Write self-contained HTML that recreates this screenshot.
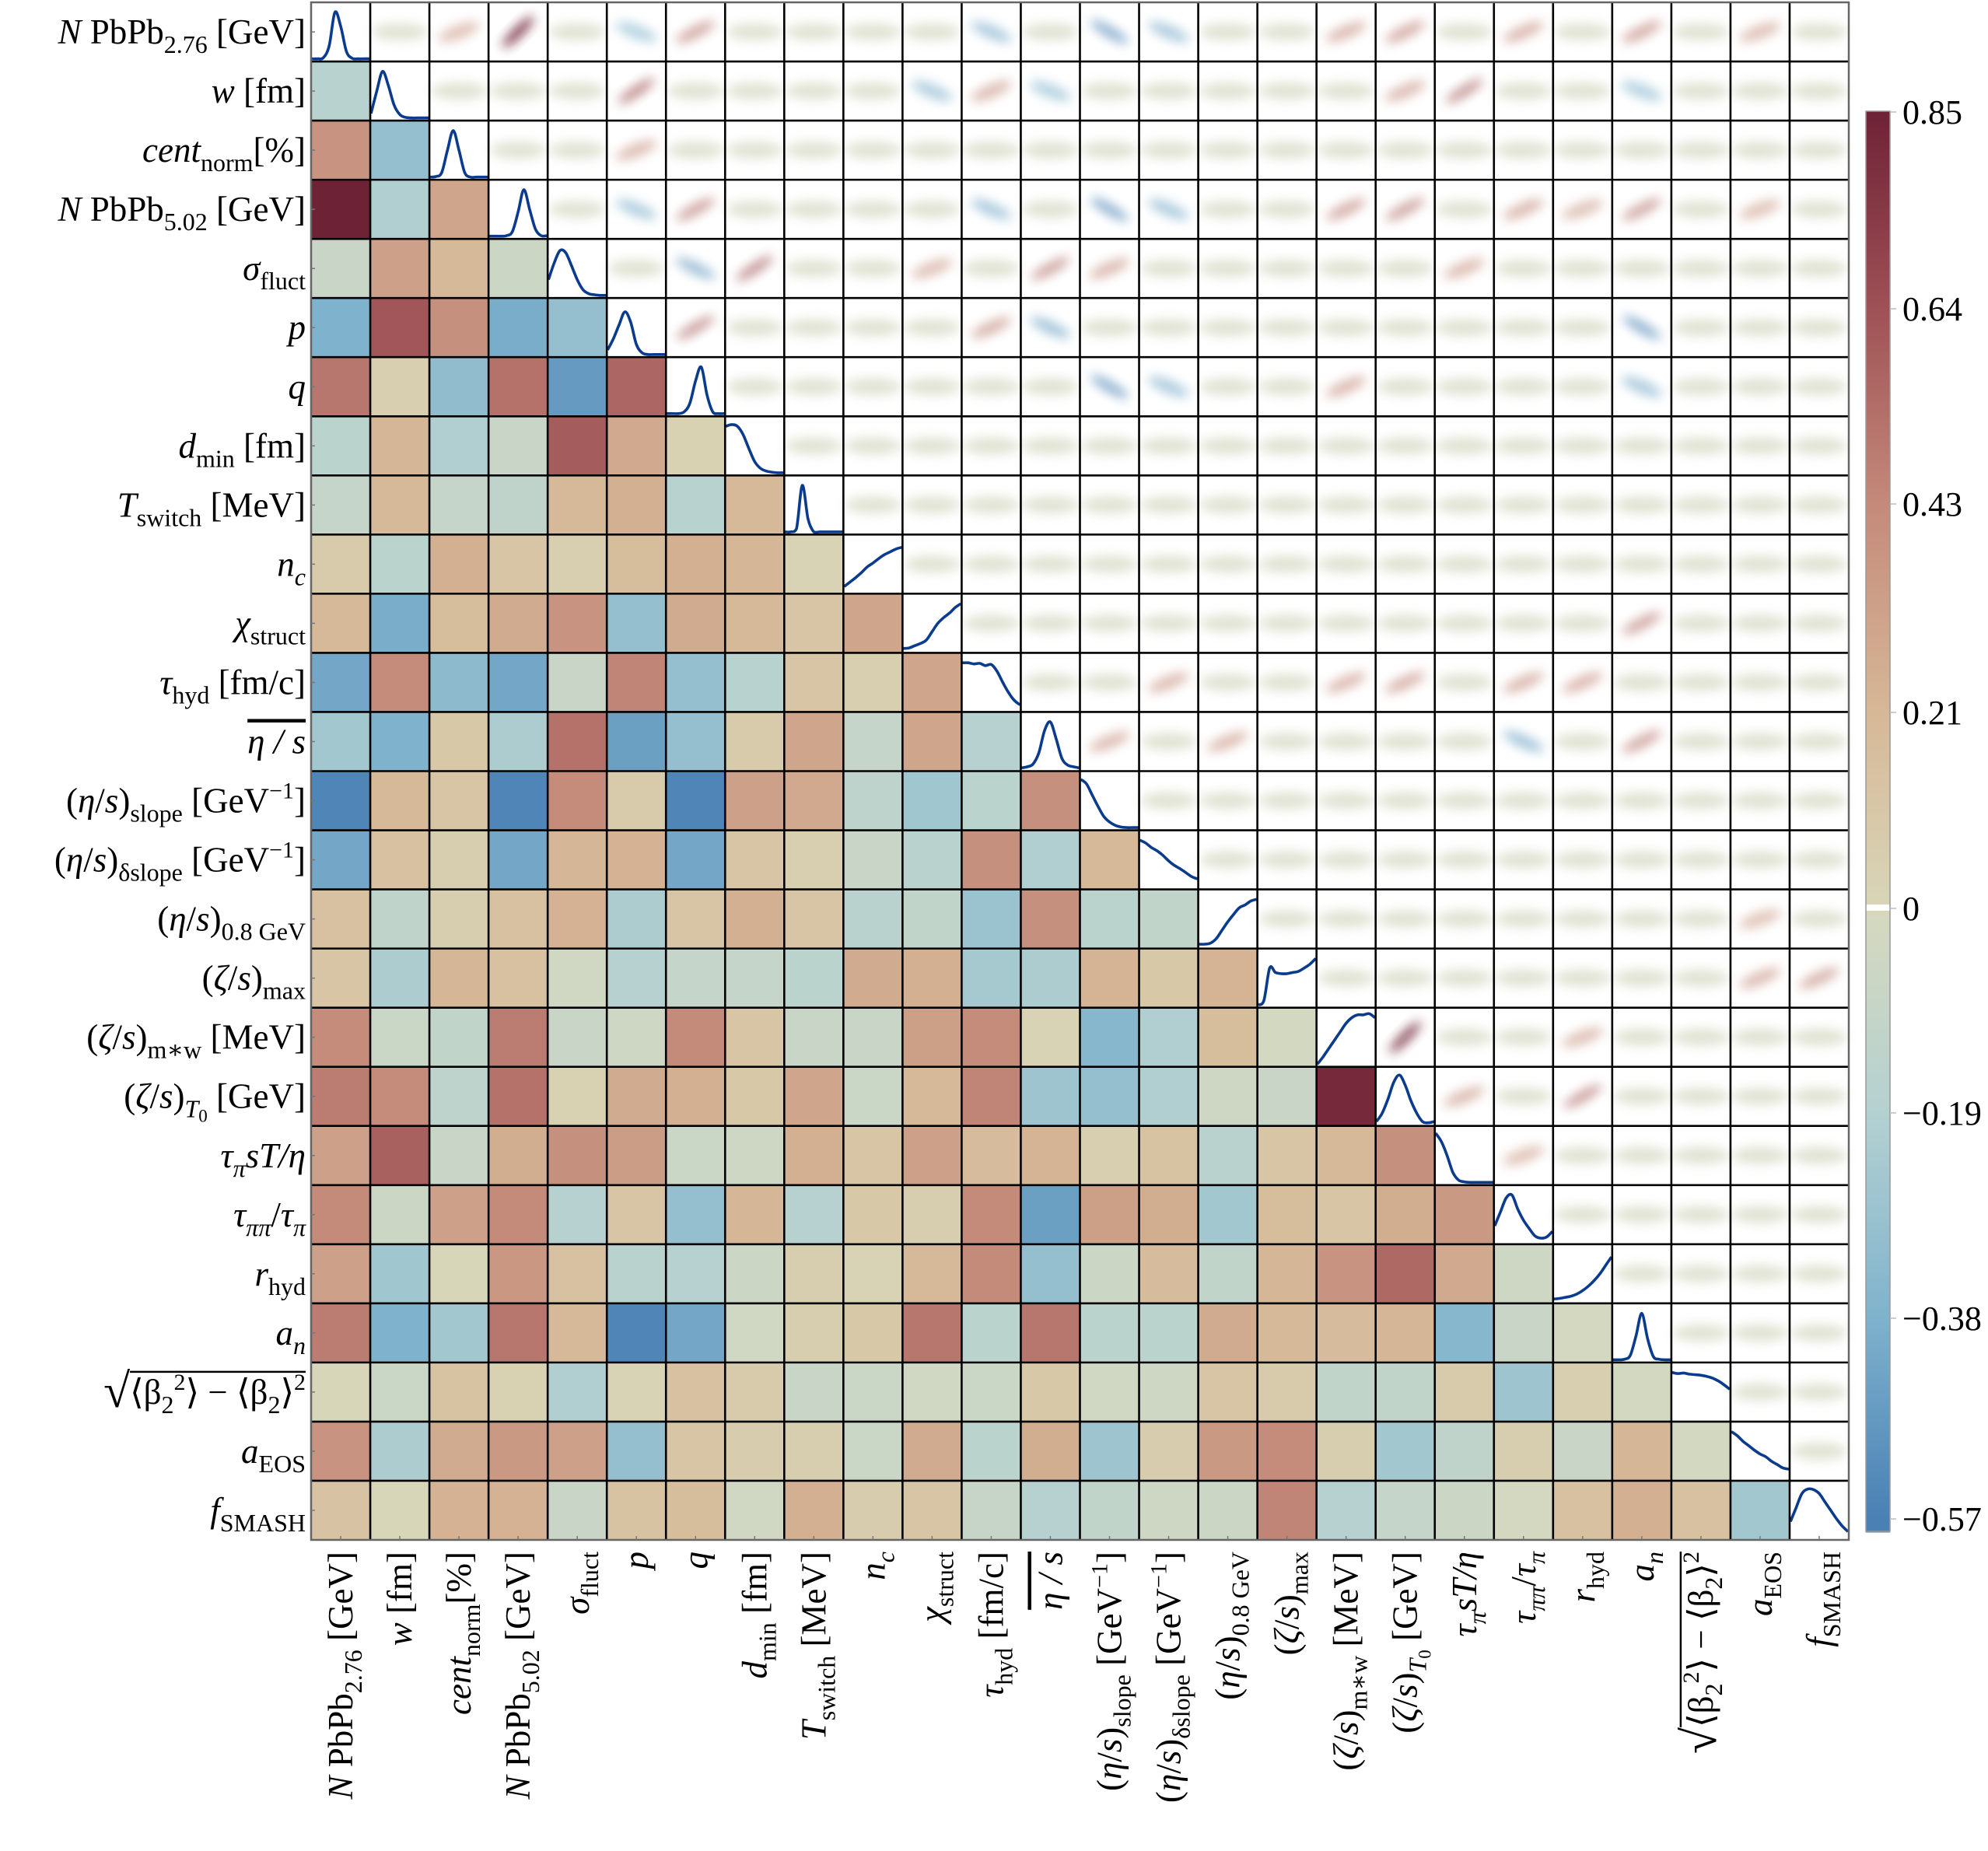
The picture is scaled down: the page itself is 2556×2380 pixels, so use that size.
<!DOCTYPE html>
<html>
<head>
<meta charset="utf-8">
<style>
html,body{margin:0;padding:0;background:#fff;}
svg{display:block;}
text{font-family:"Liberation Serif","DejaVu Serif",serif;fill:#000;}
</style>
</head>
<body>
<svg id="chart" width="2556" height="2380" viewBox="0 0 2556 2380" xmlns="http://www.w3.org/2000/svg">
<defs>
<filter id="blur" x="-50%" y="-100%" width="200%" height="300%"><feGaussianBlur stdDeviation="7"/></filter>
</defs>
<g id="blobs"></g>
<g id="cells"></g>
<g id="diag"></g>
<g id="gridlines"></g>
<g id="rowlabels"></g>
<g id="collabels"></g>
<g id="colorbar"></g>
</svg>
<script>
// ---- data ----
const paramNames = ["N PbPb2.76","w","cent_norm","N PbPb5.02","sigma_fluct","p","q","d_min","T_switch","n_c","chi_struct","tau_hyd","eta/s","(eta/s)slope","(eta/s)dslope","(eta/s)0.8GeV","(zeta/s)max","(zeta/s)m*w","(zeta/s)T0","tau_pi sT/eta","tau_pipi/tau_pi","r_hyd","a_n","sqrt_beta2","a_EOS","f_SMASH"];
const corrRows = [
 [],
 [-0.17],
 [0.38,-0.3],
 [0.85,-0.2,0.3],
 [-0.08,0.32,0.2,-0.06],
 [-0.38,0.62,0.4,-0.4,-0.3],
 [0.5,0.05,-0.32,0.52,-0.47,0.56],
 [-0.15,0.22,-0.2,-0.08,0.6,0.28,0.03],
 [-0.1,0.2,-0.1,-0.13,0.2,0.25,-0.17,0.2],
 [0.08,-0.15,0.25,0.12,0.05,0.17,0.25,0.22,0.02],
 [0.2,-0.4,0.17,0.27,0.38,-0.3,0.27,0.2,0.12,0.3],
 [-0.42,0.42,-0.33,-0.42,-0.08,0.45,-0.3,-0.17,0.12,0.05,0.3],
 [-0.25,-0.38,0.1,-0.22,0.52,-0.45,-0.3,0.08,0.3,-0.1,0.3,-0.18],
 [-0.55,0.2,0.12,-0.55,0.42,0.08,-0.55,0.32,0.28,-0.14,-0.26,-0.15,0.4],
 [-0.42,0.15,0.06,-0.42,0.22,0.24,-0.42,0.12,0.05,-0.08,-0.16,0.4,-0.2,0.2],
 [0.15,-0.13,0.06,0.15,0.24,-0.22,0.12,0.25,0.12,-0.16,-0.12,-0.28,0.4,-0.15,-0.12],
 [0.12,-0.22,0.22,0.15,-0.04,-0.18,-0.1,-0.1,-0.15,0.27,0.25,-0.24,-0.22,0.23,0.1,0.23],
 [0.42,-0.07,-0.12,0.48,-0.08,-0.05,0.43,0.12,-0.08,-0.08,0.33,0.42,0.02,-0.35,-0.2,0.17,-0.02],
 [0.48,0.42,-0.14,0.52,0.03,0.27,0.25,0.1,0.3,-0.07,0.2,0.45,-0.27,-0.3,-0.2,-0.05,-0.08,0.82],
 [0.32,0.58,-0.08,0.26,0.4,0.34,-0.07,-0.05,0.25,0.12,0.32,0.18,0.23,0.05,0.14,-0.16,0.12,0.2,0.4],
 [0.43,-0.06,0.32,0.43,-0.18,0.12,-0.3,0.22,-0.18,0.1,0.06,0.43,-0.45,0.33,0.26,-0.25,0.17,0.12,0.26,0.36],
 [0.32,-0.26,0.0,0.37,0.15,-0.16,-0.18,-0.06,0.06,0.02,0.2,0.43,-0.3,-0.06,0.18,-0.12,0.22,0.38,0.55,0.28,-0.05],
 [0.48,-0.38,-0.25,0.5,0.2,-0.55,-0.42,-0.04,0.06,0.1,0.5,-0.15,0.5,-0.15,-0.15,0.27,0.2,0.18,0.22,-0.35,-0.08,-0.01],
 [0.0,-0.07,0.14,0.03,-0.2,0.02,0.15,0.08,-0.08,-0.07,-0.04,-0.07,0.1,-0.04,-0.05,0.12,0.08,-0.12,-0.12,0.08,-0.27,0.05,-0.02],
 [0.38,-0.22,0.27,0.36,0.32,-0.3,0.12,0.07,0.06,-0.07,0.27,-0.15,0.26,-0.27,0.07,0.36,0.42,0.06,-0.25,-0.13,0.06,-0.08,0.22,-0.02],
 [0.13,0.0,0.24,0.24,-0.08,0.14,0.17,-0.04,0.25,0.07,0.12,-0.09,-0.18,-0.12,-0.05,-0.06,0.45,-0.18,-0.1,-0.06,-0.01,0.15,0.25,0.15,-0.25]
];
// marginal densities, sampled at 11 equally spaced points, normalised 0..1
const marginals = [
 [0.02,0.02,0.04,0.25,0.85,0.6,0.15,0.03,0.02,0.02,0.02],
 [0.1,0.5,0.85,0.6,0.25,0.08,0.03,0.02,0.02,0.02,0.02],
 [0.02,0.03,0.1,0.5,0.85,0.5,0.1,0.02,0.02,0.02,0.02],
 [0.02,0.02,0.02,0.03,0.1,0.45,0.85,0.5,0.15,0.03,0.03],
 [0.3,0.6,0.82,0.78,0.55,0.3,0.12,0.05,0.03,0.02,0.02],
 [0.1,0.3,0.55,0.78,0.6,0.2,0.05,0.02,0.02,0.02,0.02],
 [0.02,0.02,0.02,0.05,0.2,0.6,0.85,0.35,0.05,0.02,0.02],
 [0.85,0.88,0.85,0.7,0.45,0.22,0.1,0.05,0.03,0.02,0.02],
 [0.02,0.02,0.08,0.85,0.25,0.02,0.02,0.02,0.02,0.02,0.02],
 [0.1,0.18,0.26,0.35,0.45,0.52,0.6,0.67,0.72,0.77,0.8],
 [0.05,0.06,0.1,0.14,0.2,0.35,0.5,0.6,0.68,0.78,0.85],
 [0.85,0.85,0.83,0.84,0.8,0.82,0.7,0.5,0.32,0.18,0.1],
 [0.03,0.05,0.1,0.3,0.7,0.85,0.55,0.2,0.08,0.05,0.03],
 [0.88,0.8,0.6,0.4,0.22,0.12,0.06,0.03,0.02,0.02,0.02],
 [0.85,0.8,0.72,0.66,0.58,0.48,0.4,0.34,0.27,0.2,0.16],
 [0.05,0.05,0.07,0.15,0.3,0.45,0.58,0.7,0.75,0.82,0.85],
 [0.02,0.1,0.68,0.6,0.58,0.58,0.6,0.62,0.68,0.75,0.85],
 [0.02,0.15,0.3,0.45,0.6,0.75,0.85,0.9,0.9,0.92,0.85],
 [0.05,0.2,0.45,0.75,0.88,0.7,0.42,0.2,0.05,0.03,0.05],
 [0.9,0.75,0.5,0.2,0.06,0.03,0.02,0.02,0.02,0.02,0.02],
 [0.3,0.55,0.8,0.85,0.6,0.4,0.25,0.12,0.08,0.1,0.2],
 [0.05,0.06,0.08,0.1,0.14,0.2,0.28,0.38,0.5,0.65,0.8],
 [0.02,0.02,0.03,0.1,0.45,0.85,0.4,0.08,0.03,0.02,0.02],
 [0.85,0.83,0.84,0.82,0.81,0.8,0.78,0.75,0.7,0.63,0.55],
 [0.85,0.78,0.68,0.6,0.52,0.45,0.4,0.32,0.26,0.2,0.18],
 [0.3,0.55,0.8,0.88,0.87,0.8,0.65,0.5,0.35,0.22,0.12]
];
const cbTickValues = [0.85,0.64,0.43,0.21,0,-0.19,-0.38,-0.57];
const cbTickLabels = ["0.85","0.64","0.43","0.21","0","\u22120.19","\u22120.38","\u22120.57"];

// ---- layout ----
const NS = "http://www.w3.org/2000/svg";
const N = 26, X0 = 400, Y0 = 3, X1 = 2377;
const C = (X1 - X0) / N;
const cbTickY = [144,397,648,916,1168,1431,1695,1953];
const cbX = 2399, cbW = 31, cbTop = 143, cbBot = 1969;
function colX(j){ return X0 + j*C; }
function rowY(i){ return Y0 + i*C; }
function el(tag, attrs, parent){
  const e = document.createElementNS(NS, tag);
  for (const k in attrs) e.setAttribute(k, attrs[k]);
  parent.appendChild(e); return e;
}
const stops = [[-0.57,[74,128,180]],[-0.38,[127,178,204]],[-0.19,[180,209,209]],[-0.01,[213,216,192]],[0,[216,214,184]],[0.21,[214,184,151]],[0.43,[196,138,122]],[0.64,[158,81,86]],[0.85,[110,34,54]]];
function cmap(v){
  if (v <= stops[0][0]) return "rgb("+stops[0][1].join(",")+")";
  for (let k=1;k<stops.length;k++){
    if (v <= stops[k][0]){
      const a=stops[k-1], b=stops[k], t=(v-a[0])/(b[0]-a[0]);
      const c=a[1].map((x,ii)=>Math.round(x+(b[1][ii]-x)*t));
      return "rgb("+c.join(",")+")";
    }
  }
  return "rgb("+stops[stops.length-1][1].join(",")+")";
}
function corr(i,j){ return i>j ? corrRows[i][j] : corrRows[j][i]; }

// ---- lower triangle cells ----
const gCells = document.getElementById("cells");
for (let i=1;i<N;i++){
  for (let j=0;j<i;j++){
    const r = el("rect",{x:colX(j),y:rowY(i),width:C,height:C,fill:cmap(corrRows[i][j])},gCells);
    
    
  }
}
// ---- upper triangle blobs ----
const gBlobs = document.getElementById("blobs");
for (let i=0;i<N;i++){
  for (let j=i+1;j<N;j++){
    const v = corr(i,j);
    const a = Math.abs(v);
    const cx = colX(j)+C/2, cy = rowY(i)+C/2;
    const strong = a > 0.35;
    const ang = strong ? -Math.sign(v)*Math.min(45, a*55) : 0;
    const col = strong ? cmap(v) : "rgb(200,204,176)";
    const e = el("ellipse",{cx:cx,cy:cy,rx:strong?28:36,ry:strong?Math.max(6,14*(1-a)):11,fill:col,opacity:strong?Math.min(0.9,0.3+a*0.7):0.55,filter:"url(#blur)",transform:"rotate("+ang+" "+cx+" "+cy+")"},gBlobs);
    
    
  }
}
// ---- diagonal marginals ----
const gDiag = document.getElementById("diag");
for (let i=0;i<N;i++){
  const m = marginals[i];
  const x0 = colX(i)+1, y0 = rowY(i)+C-2, w = C-2, h = C-4;
  const pts = m.map((v,k)=>[x0 + w*k/(m.length-1), y0 - v*h]);
  let d = "M"+pts[0][0].toFixed(1)+","+pts[0][1].toFixed(1);
  for (let k=0;k<pts.length-1;k++){
    const p0=pts[Math.max(0,k-1)], p1=pts[k], p2=pts[k+1], p3=pts[Math.min(pts.length-1,k+2)];
    const c1=[p1[0]+(p2[0]-p0[0])/6, p1[1]+(p2[1]-p0[1])/6];
    const c2=[p2[0]-(p3[0]-p1[0])/6, p2[1]-(p3[1]-p1[1])/6];
    d += " C"+c1[0].toFixed(1)+","+Math.min(y0,c1[1]).toFixed(1)+" "+c2[0].toFixed(1)+","+Math.min(y0,c2[1]).toFixed(1)+" "+p2[0].toFixed(1)+","+p2[1].toFixed(1);
  }
  const p = el("path",{d:d,fill:"none",stroke:"#0b3b8c","stroke-width":3.6,"stroke-linejoin":"round"},gDiag);
  
  
}
// ---- grid lines ----
const gGrid = document.getElementById("gridlines");
for (let k=1;k<N;k++){
  el("line",{x1:colX(k),y1:Y0,x2:colX(k),y2:rowY(N),stroke:"#000","stroke-width":2.6},gGrid);
  el("line",{x1:X0,y1:rowY(k),x2:X1,y2:rowY(k),stroke:"#000","stroke-width":2.6},gGrid);
}
el("rect",{x:X0,y:Y0,width:X1-X0,height:rowY(N)-Y0,fill:"none",stroke:"#666","stroke-width":2.5},gGrid);
for (let k=0;k<N;k++){
  el("line",{x1:X0,y1:rowY(k)+C/2,x2:X0+5,y2:rowY(k)+C/2,stroke:"#777","stroke-width":1.5},gGrid);
  el("line",{x1:colX(k)+C/2,y1:rowY(N),x2:colX(k)+C/2,y2:rowY(N)-5,stroke:"#777","stroke-width":1.5},gGrid);
}

// ---- labels ----
const labelSegs = [
 [["N","i"],[" PbPb",""],["2.76","s"],[" [GeV]",""]],
 [["w","i"],[" [fm]",""]],
 [["cent","i"],["norm","s"],["[%]",""]],
 [["N","i"],[" PbPb",""],["5.02","s"],[" [GeV]",""]],
 [["\u03C3","i"],["fluct","s"]],
 [["p","i"]],
 [["q","i"]],
 [["d","i"],["min","s"],[" [fm]",""]],
 [["T","i"],["switch","s"],[" [MeV]",""]],
 [["n","i"],["c","si"]],
 [["\u03C7","i"],["struct","s"]],
 [["\u03C4","i"],["hyd","s"],[" [fm/c]",""]],
 [["\u03B7 / s","io"]],
 [["(",""],["\u03B7","i"],["/",""],["s","i"],[")",""],["slope","s"],[" [GeV",""],["\u22121","p"],["]",""]],
 [["(",""],["\u03B7","i"],["/",""],["s","i"],[")",""],["\u03B4slope","s"],[" [GeV",""],["\u22121","p"],["]",""]],
 [["(",""],["\u03B7","i"],["/",""],["s","i"],[")",""],["0.8 GeV","s"]],
 [["(",""],["\u03B6","i"],["/",""],["s","i"],[")",""],["max","s"]],
 [["(",""],["\u03B6","i"],["/",""],["s","i"],[")",""],["m\u2217w","s"],[" [MeV]",""]],
 [["(",""],["\u03B6","i"],["/",""],["s","i"],[")",""],["T","si"],["0","ss"],[" [GeV]",""]],
 [["\u03C4","i"],["\u03C0","si"],["sT/\u03B7","i"]],
 [["\u03C4","i"],["\u03C0\u03C0","si"],["/",""],["\u03C4","i"],["\u03C0","si"]],
 [["r","i"],["hyd","s"]],
 [["a","i"],["n","si"]],
 [["\u221A","sq"],["\u27E8\u03B2",""],["2","s"],["2","p"],["\u27E9 \u2212 \u27E8\u03B2",""],["2","s"],["\u27E9",""],["2","p"]],
 [["a","i"],["EOS","s"]],
 [["f","i"],["SMASH","s"]]
];
const FS = 45;
function buildLabel(textEl, segs){
  let cur = 0;
  for (const [t, f] of segs){
    const ts = document.createElementNS(NS,"tspan");
    let target = 0, size = FS;
    if (f.includes("s") && f !== "sq"){ target = 12; size = 32; }
    if (f.includes("ss")){ target = 18; size = 23; }
    if (f.includes("p")){ target = -18; size = 30; }
    if (f === "sq"){ size = 62; target = 4; }
    if (f.includes("i")) ts.setAttribute("font-style","italic");
    if (f.includes("o")) ts.setAttribute("text-decoration","overline");
    ts.setAttribute("font-size", size);
    ts.setAttribute("dy", target - cur);
    cur = target;
    ts.textContent = t;
    textEl.appendChild(ts);
  }
}
const gRow = document.getElementById("rowlabels");
const gCol = document.getElementById("collabels");
for (let i=0;i<N;i++){
  const t = el("text",{x:393,y:rowY(i)+C/2+15,"text-anchor":"end","font-size":FS},gRow);
  
  
  buildLabel(t, labelSegs[i]);
  const cx = colX(i)+C/2+15, cy = 1995;
  const t2 = el("text",{x:cx,y:cy,"text-anchor":"end","font-size":FS,transform:"rotate(-90 "+cx+" "+cy+")"},gCol);
  
  
  buildLabel(t2, labelSegs[i]);
  if (i === 23){
    const bb = t.getBBox();
    el("line",{x1:bb.x+34,y1:rowY(i)+C/2-26,x2:bb.x+bb.width,y2:rowY(i)+C/2-26,stroke:"#000","stroke-width":2.5},gRow);
    const L = t2.getBBox().width;
    el("line",{x1:cx-41,y1:cy,x2:cx-41,y2:cy+L-34,stroke:"#000","stroke-width":2.5},gCol);
  }
}

// ---- colorbar ----
const gCb = document.getElementById("colorbar");
function valToY(v){
  for (let k=0;k<cbTickValues.length-1;k++){
    const a=cbTickValues[k], b=cbTickValues[k+1];
    if (v<=a && v>=b) return cbTickY[k] + (cbTickY[k+1]-cbTickY[k])*(a-v)/(a-b);
  }
  return v>cbTickValues[0]?cbTickY[0]:cbTickY[cbTickY.length-1];
}
function yToVal(y){
  if (y<=cbTickY[0]) return cbTickValues[0];
  for (let k=0;k<cbTickY.length-1;k++){
    if (y>=cbTickY[k] && y<=cbTickY[k+1]) return cbTickValues[k] + (cbTickValues[k+1]-cbTickValues[k])*(y-cbTickY[k])/(cbTickY[k+1]-cbTickY[k]);
  }
  return cbTickValues[cbTickValues.length-1];
}
for (let y=cbTop;y<cbBot;y+=3){
  el("rect",{x:cbX,y:y,width:cbW,height:3.5,fill:cmap(yToVal(y+1.5))},gCb);
}
el("rect",{x:cbX,y:valToY(0)-5,width:cbW,height:8,fill:"#fff"},gCb);
el("rect",{x:cbX,y:cbTop,width:cbW,height:cbBot-cbTop,fill:"none",stroke:"#999","stroke-width":1.5},gCb);
for (let k=0;k<cbTickValues.length;k++){
  const y = valToY(cbTickValues[k]);
  el("line",{x1:cbX+cbW,y1:y,x2:cbX+cbW+8,y2:y,stroke:"#bbb","stroke-width":1.5},gCb);
  const t = el("text",{x:2446,y:y+15,"font-size":44},gCb);
  
  
  t.textContent = cbTickLabels[k];
}
</script>
</body>
</html>
